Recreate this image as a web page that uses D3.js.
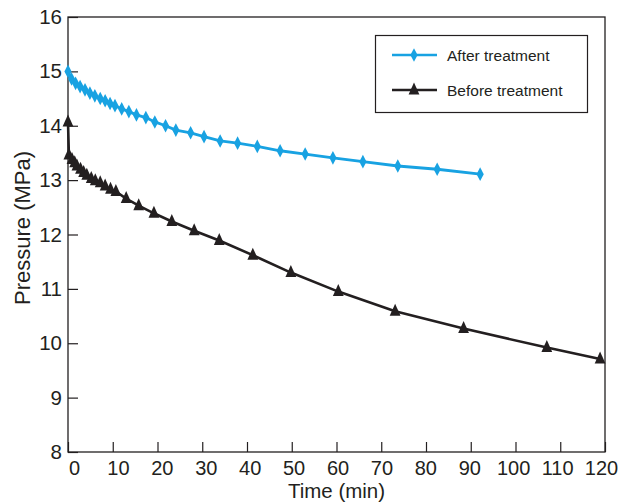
<!DOCTYPE html>
<html>
<head>
<meta charset="utf-8">
<script src="https://cdn.jsdelivr.net/npm/d3@7"></script>
<style>
  html, body { margin: 0; padding: 0; background: #fff; }
  svg text { font-family: "Liberation Sans", Arial, Helvetica, sans-serif; fill: #231f20; }
</style>
</head>
<body>
<svg id="chart" width="632" height="503"></svg>
<script>
// ---- data ----
const afterTime = [0, 0.8, 1.7, 2.7, 3.8, 4.9, 6.0, 7.2, 8.3, 9.4, 10.5, 12.0, 13.6, 15.3, 17.4, 19.4, 21.8, 24.1, 27.4, 30.4, 34.0, 37.9, 42.3, 47.4, 53.0, 59.2, 65.9, 73.7, 82.5, 92.1];
const afterPressure = [15.0, 14.86, 14.78, 14.72, 14.66, 14.60, 14.55, 14.50, 14.46, 14.41, 14.37, 14.31, 14.26, 14.20, 14.15, 14.07, 14.00, 13.92, 13.87, 13.80, 13.72, 13.68, 13.62, 13.54, 13.48, 13.41, 13.34, 13.26, 13.20, 13.11];
const beforeTime = [0, 0.2, 0.9, 1.5, 2.0, 2.8, 3.5, 4.2, 5.2, 6.1, 7.2, 8.3, 9.5, 10.7, 13.0, 15.8, 19.2, 23.2, 28.2, 33.8, 41.3, 49.8, 60.4, 73.1, 88.4, 107.0, 118.9];
const beforePressure = [14.07, 13.46, 13.38, 13.32, 13.26, 13.20, 13.14, 13.09, 13.03, 12.99, 12.95, 12.89, 12.83, 12.79, 12.66, 12.53, 12.39, 12.24, 12.07, 11.89, 11.62, 11.30, 10.95, 10.59, 10.27, 9.92, 9.71];
const xTicks = [0, 10, 20, 30, 40, 50, 60, 70, 80, 90, 100, 110, 120];
const yTicks = [8, 9, 10, 11, 12, 13, 14, 15, 16];
const seriesNames = ["After treatment", "Before treatment"];
const xTitle = "Time (min)";
const yTitle = "Pressure (MPa)";

// ---- layout ----
const L = 68, R = 605, T = 17, B = 452;
const ink = "#231f20", blue = "#18a2e2";
const svg = d3.select("#chart");
svg.append("rect").attr("width", 632).attr("height", 503).attr("fill", "#fff");

const x = d3.scaleLinear().domain([0, 120]).range([L, R]);
const y = d3.scaleLinear().domain([8, 16]).range([B, T]);
const xLabel = d3.scaleLinear().domain([0, 120]).range([74, 601]);

// x axis
const gx = svg.append("g").attr("transform", `translate(0,${B})`)
  .call(d3.axisBottom(x).tickValues(xTicks).tickSize(-10).tickSizeOuter(0));
gx.select(".domain").remove();
gx.selectAll(".tick line").attr("stroke", ink).attr("stroke-width", 1.2);
gx.selectAll(".tick text").attr("font-size", 20).attr("y", 9).attr("dy", "0.71em")
  .attr("x", d => xLabel(d) - x(d)).attr("fill", ink);

// y axis
const gy = svg.append("g").attr("transform", `translate(${L},0)`)
  .call(d3.axisLeft(y).tickValues(yTicks).tickSize(-10).tickSizeOuter(0));
gy.select(".domain").remove();
gy.selectAll(".tick line").attr("stroke", ink).attr("stroke-width", 1.2);
gy.selectAll(".tick text").attr("font-size", 20.5).attr("x", -6).attr("fill", ink);

// frame
svg.append("rect").attr("x", L).attr("y", T).attr("width", R - L).attr("height", B - T)
  .attr("fill", "none").attr("stroke", ink).attr("stroke-width", 1.3);

// titles
svg.append("text").attr("x", x(60)).attr("y", 498).attr("text-anchor", "middle")
  .attr("font-size", 20.5).text(xTitle);
svg.append("text").attr("transform", "translate(30,228) rotate(-90)")
  .attr("text-anchor", "middle").attr("font-size", 22).text(yTitle);

// series
const afterData = afterTime.map((t, i) => ({ t, p: afterPressure[i] }));
const beforeData = beforeTime.map((t, i) => ({ t, p: beforePressure[i] }));
const line = d3.line().x(d => x(d.t)).y(d => y(d.p));

const diamond = (cx, cy) => `M${cx},${cy - 6.8}L${cx + 3.6},${cy}L${cx},${cy + 6.8}L${cx - 3.6},${cy}Z`;
const triangle = (cx, cy) => `M${cx},${cy - 7.5}L${cx + 5.4},${cy + 4.5}L${cx - 5.4},${cy + 4.5}Z`;

svg.append("path").datum(beforeData).attr("d", line).attr("fill", "none")
  .attr("stroke", ink).attr("stroke-width", 2.6).attr("stroke-linejoin", "round");
svg.append("g").selectAll("path").data(beforeData).join("path")
  .attr("d", d => triangle(x(d.t), y(d.p))).attr("fill", ink);

svg.append("path").datum(afterData).attr("d", line).attr("fill", "none")
  .attr("stroke", blue).attr("stroke-width", 2.8).attr("stroke-linejoin", "round");
svg.append("g").selectAll("path").data(afterData).join("path")
  .attr("d", d => diamond(x(d.t), y(d.p))).attr("fill", blue);

// legend
const lg = svg.append("g");
lg.append("rect").attr("x", 375.5).attr("y", 35.5).attr("width", 212).attr("height", 77)
  .attr("fill", "#fff").attr("stroke", ink).attr("stroke-width", 1.2);
const legendItems = [
  { name: seriesNames[0], color: blue, shape: diamond, yy: 55 },
  { name: seriesNames[1], color: ink, shape: triangle, yy: 90 }
];
legendItems.forEach(it => {
  lg.append("line").attr("x1", 392).attr("x2", 437).attr("y1", it.yy).attr("y2", it.yy)
    .attr("stroke", it.color).attr("stroke-width", 2.6);
  lg.append("path").attr("d", it.shape(414, it.yy)).attr("fill", it.color);
  lg.append("text").attr("x", 447).attr("y", it.yy + 5.5).attr("font-size", 15.5).text(it.name);
});
</script>
</body>
</html>
